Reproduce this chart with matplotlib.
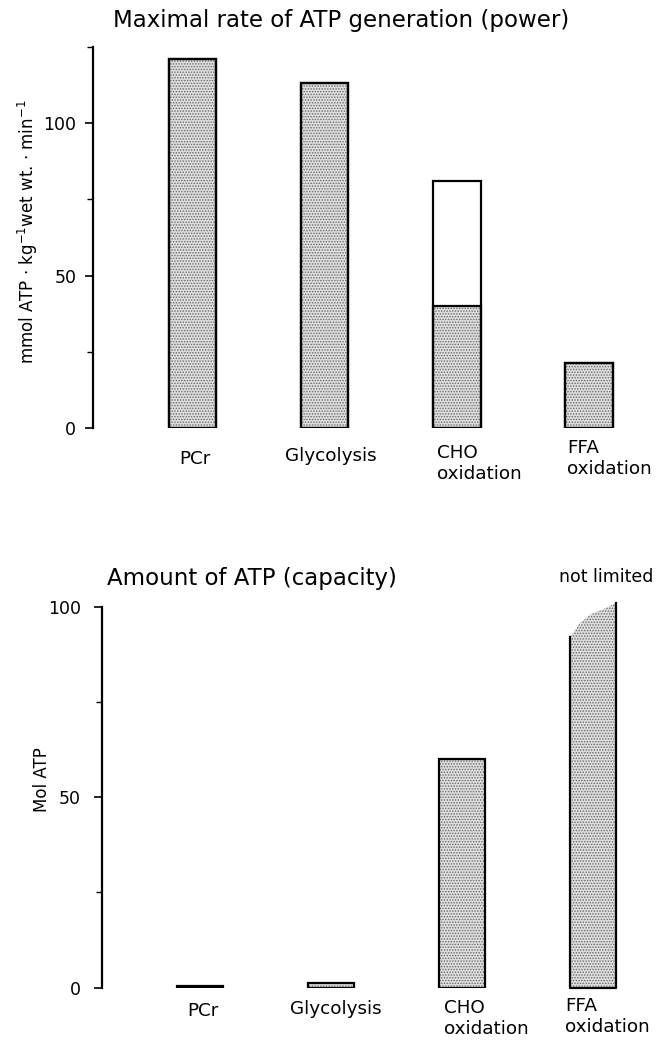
import matplotlib.pyplot as plt

plt.rcParams['font.family'] = ['DejaVu Sans']
plt.rcParams['hatch.linewidth'] = 0.7

# data
categories = ['PCr', 'Glycolysis', 'CHO\noxidation', 'FFA\noxidation']
power_total = [121, 113, 81, 21.5]        # mmol ATP / kg wet wt / min
power_shaded = [121, 113, 40, 21.5]       # stippled part of each bar
capacity = [0.5, 1.2, 60, 92]             # Mol ATP
ffa_top_frac = [0.0, 0.2, 0.45, 0.75, 1.0]   # across the FFA bar width
ffa_top_vals = [92, 95.5, 98, 99.5, 101]    # ragged "not limited" top

STIPPLE = dict(facecolor='#dedede', edgecolor='#6a6a6a', hatch='......', linewidth=0)
OUTLINE = dict(fill=False, edgecolor='black', linewidth=1.6)


def style_axis(ax, top, pad):
    for s in ['top', 'right', 'bottom']:
        ax.spines[s].set_visible(False)
    ax.spines['left'].set_linewidth(1.6)
    ax.set_ylim(0, top)
    ax.set_yticks([0, 50, 100])
    ax.set_yticks([v for v in range(25, top + 1, 25) if v % 50 != 0 or v > 100], minor=True)
    ax.tick_params(axis='y', which='major', length=6, width=1.2, labelsize=12.5, pad=pad)
    ax.tick_params(axis='y', which='minor', length=4, width=1.0)
    ax.set_xticks([])


def category_labels(ax, xs, offs):
    for x, lab, (dx, dy) in zip(xs, categories, offs):
        ha = 'left' if '\n' in lab else 'center'
        ax.annotate(lab, xy=(x, 0), xycoords='data', xytext=(dx, dy),
                    textcoords='offset pixels', ha=ha, va='center',
                    fontsize=13.2, linespacing=1.2, annotation_clip=False)


fig = plt.figure(figsize=(6.59, 10.42), dpi=100)

# ---- power panel
ax1 = fig.add_axes([93 / 659, (1042 - 428.3) / 1042, 566 / 659, 381.6 / 1042])
xs = list(range(len(categories)))
w1 = 0.36
ax1.bar(xs, power_shaded, width=w1, **STIPPLE)
ax1.bar(xs, power_shaded, width=w1, **OUTLINE)
ax1.bar(xs, power_total, width=w1, **OUTLINE)
ax1.set_xlim(-0.753, 3.53)
style_axis(ax1, 125, 6)
category_labels(ax1, xs, [(2, -31), (6, -28), (-20, -35), (-22, -30)])

fig.text(341 / 659, 1 - 21 / 1042, 'Maximal rate of ATP generation (power)',
         ha='center', va='center', fontsize=16.5)
fig.text(28 / 659, 1 - 232 / 1042, r'mmol ATP $\cdot$ kg$^{-1}$wet wt. $\cdot$ min$^{-1}$',
         rotation=90, ha='center', va='center', fontsize=12)

# ---- capacity panel
ax2 = fig.add_axes([102 / 659, (1042 - 987.7) / 1042, 557 / 659, 381 / 1042])
w2 = 0.35
ax2.bar(xs[:3], capacity[:3], width=w2, **STIPPLE)
ax2.bar(xs[:3], capacity[:3], width=w2, **OUTLINE)
ax2.bar(xs[0], capacity[0], width=w2, facecolor='black', edgecolor='black', linewidth=1.2)

# FFA bar with ragged open top
fx = xs[3]
left, right = fx - w2 / 2, fx + w2 / 2
px = [left + f * w2 for f in ffa_top_frac]
ax2.fill_between(px, 0, ffa_top_vals, facecolor='#dedede', edgecolor='#6a6a6a',
                 hatch='......', linewidth=0, clip_on=False)
ax2.plot([left, left, right, right], [capacity[3], 0, 0, ffa_top_vals[-1]],
         color='black', linewidth=1.6, clip_on=False)
ax2.set_xlim(-0.748, 3.504)
style_axis(ax2, 100, 9)
category_labels(ax2, xs, [(3, -23), (5, -21), (-18, -31), (-28, -29)])

fig.text(107 / 659, 1 - 579 / 1042, 'Amount of ATP (capacity)',
         ha='left', va='center', fontsize=16.5)
fig.text(653 / 659, 1 - 577 / 1042, 'not limited', ha='right', va='center', fontsize=12.5)
fig.text(42 / 659, 1 - 780 / 1042, 'Mol ATP', rotation=90, ha='center', va='center', fontsize=12)

fig.savefig('out.png', dpi=100)
